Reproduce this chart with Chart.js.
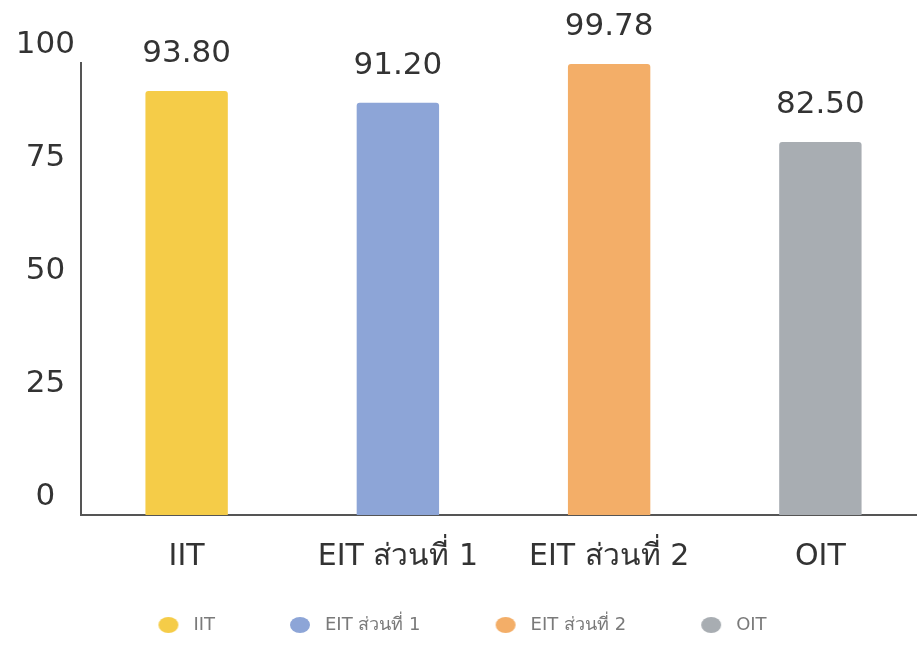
<!DOCTYPE html>
<html>
<head>
<meta charset="utf-8">
<script src="https://cdn.jsdelivr.net/npm/chart.js@4"></script>
<style>
html,body{margin:0;padding:0;background:#fff;overflow:hidden;width:917px;height:648px;}
canvas{display:block;}
</style>
</head>
<body>
<canvas id="c" width="928" height="648"></canvas>
<script>
const categories = ["IIT", "EIT ส่วนที่ 1", "EIT ส่วนที่ 2", "OIT"];
const values = [93.80, 91.20, 99.78, 82.50];
const valueLabels = ["93.80", "91.20", "99.78", "82.50"];
const yTicks = [0, 25, 50, 75, 100];
const barColors = ["#F5CC48", "#8DA5D7", "#F3AE68", "#A8ADB2"];

const FONT = "'DejaVu Sans', 'Noto Sans', sans-serif";

function legendIcon(color) {
  const c = document.createElement('canvas');
  c.width = 61; c.height = 20;
  const g = c.getContext('2d');
  g.fillStyle = color;
  g.beginPath();
  g.ellipse(45, 10, 10, 8, 0, 0, Math.PI * 2);
  g.fill();
  return c;
}

const valueLabelPlugin = {
  id: 'valueLabels',
  afterDatasetsDraw(chart) {
    const ctx = chart.ctx;
    const meta = chart.getDatasetMeta(0);
    ctx.save();
    ctx.font = "31px " + FONT;
    ctx.fillStyle = "#333";
    ctx.textAlign = "center";
    ctx.textBaseline = "alphabetic";
    meta.data.forEach((bar, i) => {
      ctx.fillText(valueLabels[i], bar.x, bar.y - 29);
    });
    ctx.restore();
  }
};

new Chart(document.getElementById('c'), {
  type: 'bar',
  data: {
    labels: categories,
    datasets: [{
      data: values,
      backgroundColor: barColors,
      borderRadius: 3,
      borderSkipped: 'start',
      barPercentage: 0.39,
      categoryPercentage: 1
    }]
  },
  options: {
    responsive: false,
    animation: false,
    layout: { padding: { top: 63, right: 2, left: -36, bottom: 4 } },
    plugins: {
      tooltip: { enabled: false },
      legend: {
        position: 'bottom',
        labels: {
          usePointStyle: true,
          boxHeight: 18,
          pointStyleWidth: 61,
          padding: 40,
          color: '#7a7a7a',
          font: { family: FONT, size: 18 },
          generateLabels(chart) {
            return categories.map((c, i) => ({
              text: c,
              fillStyle: barColors[i],
              strokeStyle: barColors[i],
              fontColor: '#7a7a7a',
              lineWidth: 0,
              pointStyle: legendIcon(barColors[i]),
              hidden: false,
              index: i
            }));
          }
        }
      }
    },
    scales: {
      x: {
        grid: { display: false, drawTicks: false },
        border: { display: true, color: '#555', width: 2 },
        ticks: { color: '#333', font: { family: FONT, size: 30 }, padding: 24, maxRotation: 0 },
        afterFit(scale) { scale.height = 61; }
      },
      y: {
        min: 0,
        max: 100,
        grid: { display: false, drawTicks: false },
        border: { display: true, color: '#555', width: 2 },
        afterBuildTicks(scale) { scale.ticks = yTicks.map(v => ({ value: v })); },
        ticks: {
          color: '#333',
          font: { family: FONT, size: 31 },
          crossAlign: 'center',
          padding: 6,
          labelOffset: -18
        },
        afterFit(scale) { scale.width = 117; }
      }
    }
  },
  plugins: [valueLabelPlugin]
});
</script>
</body>
</html>
